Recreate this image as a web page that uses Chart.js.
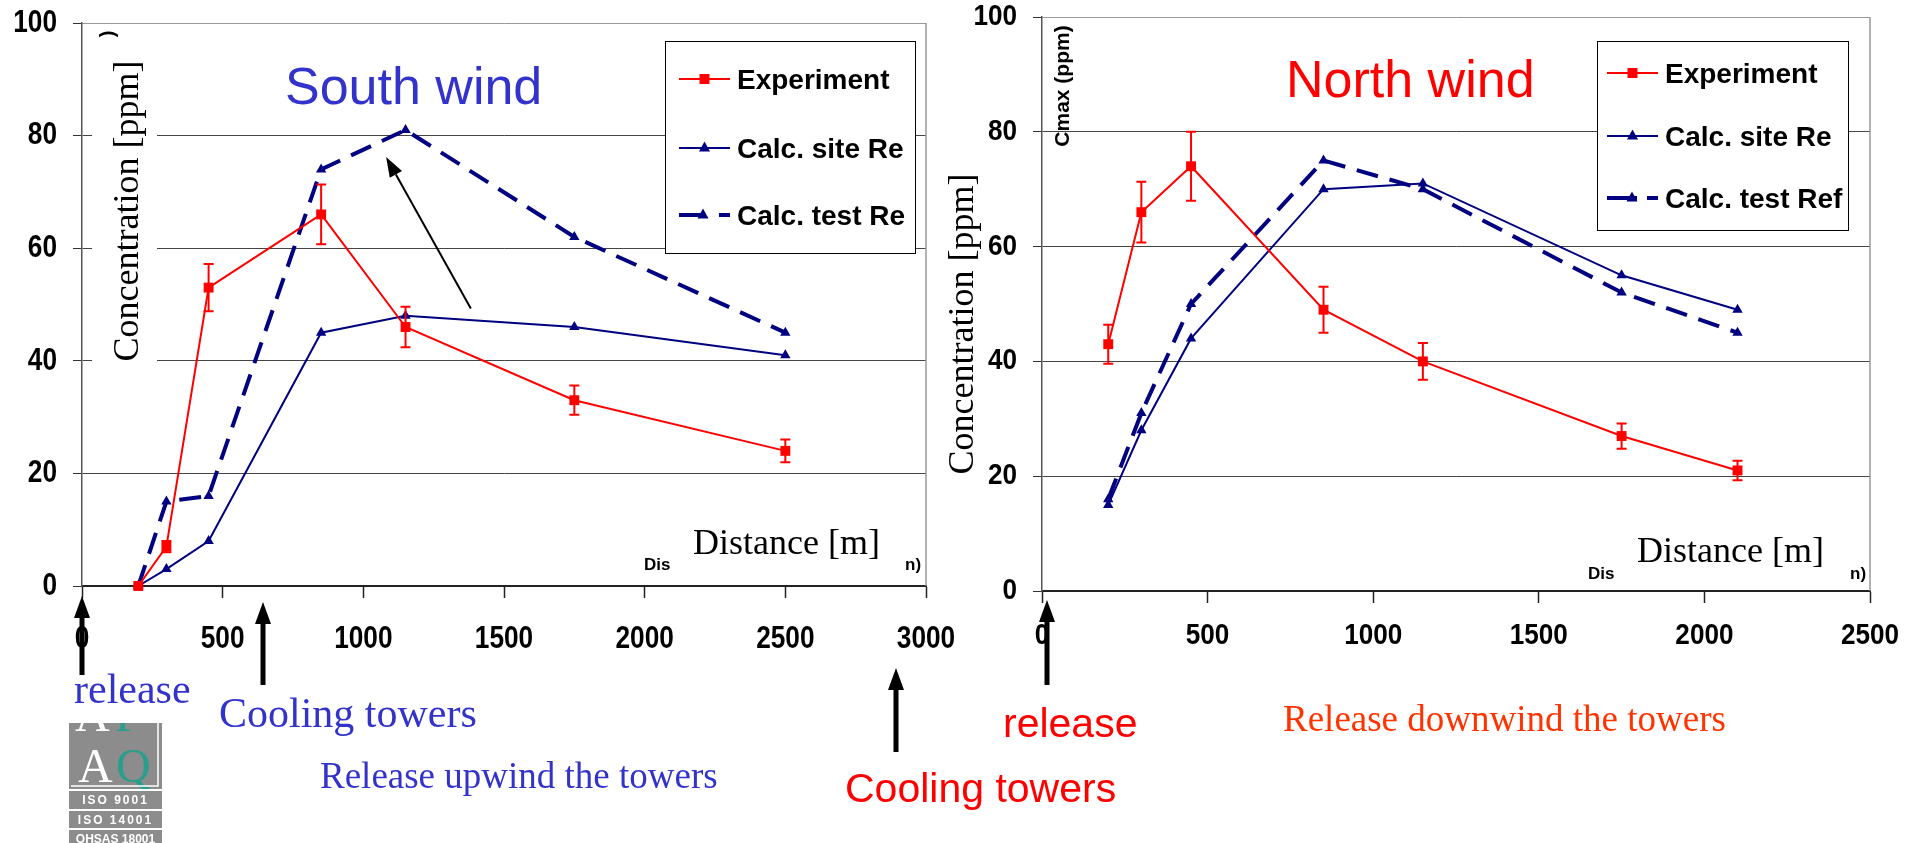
<!DOCTYPE html>
<html>
<head>
<meta charset="utf-8">
<script src="https://cdn.jsdelivr.net/npm/chart.js@4.4.1/dist/chart.umd.min.js"></script>
<style>
  html, body { margin: 0; padding: 0; background: #fff; width: 1921px; height: 843px; overflow: hidden; }
  canvas { position: absolute; left: 0; top: 0; }
</style>
</head>
<body>
<canvas id="south" width="1921" height="843"></canvas>
<canvas id="north" width="1921" height="843"></canvas>
<script>
// ---- South wind: release upwind of the cooling towers ----
const southDistance      = [200, 300, 450, 850, 1150, 1750, 2500];
const southExperiment    = [0, 7, 53, 66, 46, 33, 24];
const southExperimentErr = [0, 1, 4.2, 5.3, 3.6, 2.6, 2.0];
const southCalcSite      = [0, 3, 8, 45, 48, 46, 41];
const southCalcTest      = [0, 15, 16, 74, 81, 62, 45];
const southSeriesNames   = ['Experiment', 'Calc. site Re', 'Calc. test Re'];
const southDistanceTicks = [0, 500, 1000, 1500, 2000, 2500, 3000];

// ---- North wind: release downwind of the cooling towers ----
const northDistance      = [200, 300, 450, 850, 1150, 1750, 2100];
const northExperiment    = [43, 66, 74, 49, 40, 27, 21];
const northExperimentErr = [3.4, 5.3, 6.0, 4.0, 3.2, 2.2, 1.7];
const northCalcSite      = [15, 28, 44, 70, 71, 55, 49];
const northCalcTest      = [16, 31, 50, 75, 70, 52, 45];
const northSeriesNames   = ['Experiment', 'Calc. site Re', 'Calc. test Ref'];
const northDistanceTicks = [0, 500, 1000, 1500, 2000, 2500];

const concentrationTicks = [0, 20, 40, 60, 80, 100];

const RED = '#FF0000', NAVY = '#000080', BLUE_TXT = '#3333CC', ORANGE_TXT = '#FF3300';
const SANS = '"Liberation Sans", Arial, sans-serif';
const SERIF = '"Liberation Serif", "Times New Roman", serif';

// ---- drawing helpers ----
function upArrow(ctx, x, tipY, baseY) {
  ctx.save();
  ctx.fillStyle = '#000';
  ctx.fillRect(x - 2.5, tipY + 18, 5, baseY - tipY - 18);
  ctx.beginPath();
  ctx.moveTo(x, tipY);
  ctx.lineTo(x - 8, tipY + 22);
  ctx.lineTo(x + 8, tipY + 22);
  ctx.closePath();
  ctx.fill();
  ctx.restore();
}
function lineArrow(ctx, x0, y0, x1, y1) {
  const ang = Math.atan2(y1 - y0, x1 - x0), L = 20, W = 7;
  const bx = x1 - L * Math.cos(ang), by = y1 - L * Math.sin(ang);
  ctx.save();
  ctx.strokeStyle = '#000'; ctx.fillStyle = '#000'; ctx.lineWidth = 2;
  ctx.beginPath(); ctx.moveTo(x0, y0); ctx.lineTo(bx, by); ctx.stroke();
  ctx.beginPath();
  ctx.moveTo(x1, y1);
  ctx.lineTo(bx + W * Math.sin(ang), by - W * Math.cos(ang));
  ctx.lineTo(bx - W * Math.sin(ang), by + W * Math.cos(ang));
  ctx.closePath(); ctx.fill();
  ctx.restore();
}
function text(ctx, str, x, y, font, color, align) {
  ctx.save();
  ctx.font = font; ctx.fillStyle = color;
  ctx.textAlign = align || 'left'; ctx.textBaseline = 'alphabetic';
  ctx.fillText(str, x, y);
  ctx.restore();
}
// condensed label: drawn with a horizontal squeeze
function squeezed(ctx, str, x, y, size, sx, align) {
  ctx.save();
  ctx.translate(x, y); ctx.scale(sx, 1);
  ctx.font = 'bold ' + size + 'px ' + SANS;
  ctx.fillStyle = '#000';
  ctx.textAlign = align; ctx.textBaseline = 'middle';
  ctx.fillText(str, 0, 0);
  ctx.restore();
}
function vText(ctx, str, x, y, font, color) {
  ctx.save();
  ctx.translate(x, y); ctx.rotate(-Math.PI / 2);
  ctx.font = font; ctx.fillStyle = color;
  ctx.textAlign = 'center'; ctx.textBaseline = 'alphabetic';
  ctx.fillText(str, 0, 0);
  ctx.restore();
}
function marker(ctx, style, x, y, color) {
  ctx.save();
  ctx.fillStyle = color;
  ctx.beginPath();
  if (style === 'rect') {
    ctx.rect(x - 5, y - 5, 10, 10);
  } else {
    ctx.moveTo(x, y - 6.5); ctx.lineTo(x - 5.5, y + 3.5); ctx.lineTo(x + 5.5, y + 3.5); ctx.closePath();
  }
  ctx.fill();
  ctx.restore();
}
function drawLegend(ctx, chart, L) {
  ctx.save();
  ctx.fillStyle = '#fff';
  ctx.fillRect(L.left, L.top, L.right - L.left, L.bottom - L.top);
  ctx.strokeStyle = '#000'; ctx.lineWidth = 1;
  ctx.strokeRect(L.left + 0.5, L.top + 0.5, L.right - L.left, L.bottom - L.top);
  chart.data.datasets.forEach((ds, i) => {
    const y = L.rows[i];
    ctx.save();
    ctx.strokeStyle = ds.borderColor;
    ctx.lineWidth = ds.borderWidth;
    if (ds.borderDash) ctx.setLineDash(L.dash);
    ctx.beginPath(); ctx.moveTo(L.x0, y); ctx.lineTo(L.x1, y); ctx.stroke();
    ctx.restore();
    marker(ctx, ds.pointStyle, ds.borderDash ? L.dashMarkX : (L.x0 + L.x1) / 2, y, ds.borderColor);
    text(ctx, ds.label, L.textX, y + 9.5, 'bold 28px ' + SANS, '#000');
  });
  ctx.restore();
}
function drawLogo(ctx) {
  const x = 69, w = 93;
  ctx.save();
  ctx.fillStyle = '#8c8c8c';
  ctx.fillRect(x, 723, w, 66);
  ctx.beginPath(); ctx.rect(x, 723, w, 66); ctx.clip();
  ctx.font = '48px ' + SERIF;
  ctx.fillStyle = '#fff'; ctx.fillText('A', x + 6, 731);
  ctx.fillStyle = '#2a9d8c'; ctx.fillText('F', x + 46, 731);
  ctx.fillStyle = '#fff'; ctx.fillText('A', x + 9, 782);
  ctx.fillStyle = '#2a9d8c'; ctx.fillText('Q', x + 47, 782);
  ctx.strokeStyle = '#fff'; ctx.lineWidth = 1.5;
  ctx.beginPath(); ctx.moveTo(x + w - 4, 723); ctx.lineTo(x + w - 4, 786); ctx.lineTo(x + 2, 786); ctx.stroke();
  ctx.restore();
  const bands = [['ISO 9001', 791, 809], ['ISO 14001', 811, 828], ['OHSAS 18001', 830, 843]];
  bands.forEach(b => {
    ctx.fillStyle = '#8c8c8c';
    ctx.fillRect(x, b[1], w, b[2] - b[1]);
    ctx.save();
    ctx.font = 'bold 12px ' + SANS;
    ctx.fillStyle = '#fff';
    ctx.textAlign = 'center';
    if ('letterSpacing' in ctx) ctx.letterSpacing = b[0].length > 9 ? '0px' : '2px';
    ctx.fillText(b[0], x + w / 2, b[1] + 13);
    ctx.restore();
  });
}

// ---- error bars on the measured series ----
const errorBars = {
  id: 'errorBars',
  afterDatasetsDraw(chart, args, opts) {
    const ctx = chart.ctx, xs = chart.scales.x, ys = chart.scales.y;
    const ds = chart.data.datasets[0];
    ctx.save();
    ctx.strokeStyle = ds.borderColor; ctx.lineWidth = 2;
    ds.data.forEach((p, i) => {
      const e = opts.errors[i];
      if (!e) return;
      const x = xs.getPixelForValue(p.x);
      const yT = ys.getPixelForValue(p.y + e), yB = ys.getPixelForValue(p.y - e);
      ctx.beginPath();
      ctx.moveTo(x, yT); ctx.lineTo(x, yB);
      ctx.moveTo(x - 5, yT); ctx.lineTo(x + 5, yT);
      ctx.moveTo(x - 5, yB); ctx.lineTo(x + 5, yB);
      ctx.stroke();
    });
    ctx.restore();
  }
};

function makePanel(id, P) {
  const series = [
    { label: P.names[0], values: P.exp, color: RED, width: 2, style: 'rect', radius: 7 },
    { label: P.names[1], values: P.site, color: NAVY, width: 2, style: 'triangle', radius: 6 },
    { label: P.names[2], values: P.test, color: NAVY, width: 4, style: 'triangle', radius: 6, dash: [22, 12] }
  ];
  const frame = {
    id: 'frame',
    beforeDatasetsDraw(chart) {
      const ctx = chart.ctx, a = chart.chartArea;
      ctx.save();
      ctx.strokeStyle = '#999'; ctx.lineWidth = 1.5;
      ctx.beginPath(); ctx.moveTo(a.right, a.top); ctx.lineTo(a.right, a.bottom); ctx.stroke();
      if (P.beforeData) P.beforeData(ctx, chart);
      ctx.restore();
    },
    afterDraw(chart) {
      const ctx = chart.ctx, xs = chart.scales.x, ys = chart.scales.y;
      // tick labels in a condensed bold face, placed by the scales
      xs.ticks.forEach(t => squeezed(ctx, String(t.value), xs.getPixelForValue(t.value), P.xLabelY, P.tickSize, P.squeeze, 'center'));
      ys.ticks.forEach(t => squeezed(ctx, String(t.value), ys.right - 25, ys.getPixelForValue(t.value), P.tickSize, P.squeeze, 'right'));
      drawLegend(ctx, chart, P.legend);
      P.extras(ctx, chart);
    }
  };
  return new Chart(document.getElementById(id), {
    type: 'line',
    data: {
      datasets: series.map(s => ({
        label: s.label,
        data: P.x.map((x, i) => ({ x: x, y: s.values[i] })),
        borderColor: s.color,
        backgroundColor: s.color,
        borderWidth: s.width,
        borderDash: s.dash,
        pointStyle: s.style,
        pointRadius: s.radius,
        pointBorderWidth: 0,
        pointBackgroundColor: s.color,
        tension: 0,
        clip: false
      }))
    },
    options: {
      responsive: false,
      animation: false,
      devicePixelRatio: 1,
      events: [],
      layout: { padding: { left: P.area.left - 82, right: 1921 - P.area.right, top: P.area.top, bottom: 0 } },
      plugins: { legend: { display: false }, tooltip: { enabled: false }, errorBars: { errors: P.err } },
      scales: {
        x: {
          type: 'linear', min: 0, max: P.xMax,
          afterBuildTicks: s => { s.ticks = P.xTicks.map(v => ({ value: v })); },
          afterFit: s => { s.height = 843 - P.area.bottom; },
          grid: { drawOnChartArea: false, drawTicks: true, tickLength: 12, tickColor: '#222', tickWidth: 1.5 },
          border: { color: '#222', width: 2 },
          ticks: { display: false }
        },
        y: {
          min: 0, max: 100,
          afterBuildTicks: s => { s.ticks = concentrationTicks.map(v => ({ value: v })); },
          afterFit: s => { s.width = 82; },
          grid: {
            color: c => c.tick && c.tick.value === 100 ? '#999' : (c.tick && c.tick.value === 0 ? 'rgba(0,0,0,0)' : '#444'),
            lineWidth: 1, tickLength: 9, tickColor: '#333'
          },
          border: { color: '#555', width: 1.5 },
          ticks: { display: false }
        }
      }
    },
    plugins: [errorBars, frame]
  });
}

// ---- South wind panel ----
makePanel('south', {
  x: southDistance, exp: southExperiment, err: southExperimentErr,
  site: southCalcSite, test: southCalcTest, names: southSeriesNames,
  xTicks: southDistanceTicks, xMax: 3000, tickSize: 32, squeeze: 0.82, xLabelY: 639,
  area: { left: 82, right: 926, top: 23, bottom: 586 },
  legend: { left: 665, top: 41, right: 915, bottom: 253, x0: 679, x1: 730, textX: 737,
            rows: [79, 148, 215], dash: [26, 14], dashMarkX: 703 },
  beforeData(ctx) {
    // clear band behind the vertical axis title
    ctx.fillStyle = '#fff';
    ctx.fillRect(92, 30, 65, 338);
  },
  extras(ctx, chart) {
    const xs = chart.scales.x, ys = chart.scales.y;
    text(ctx, 'South wind', 285, 104, '52px ' + SANS, BLUE_TXT);
    vText(ctx, 'Concentration [ppm]', 138, 211, '36px ' + SERIF, '#000');
    vText(ctx, ')', 114, 34, 'bold 20px ' + SANS, '#000');
    text(ctx, 'Dis', 644, 570, 'bold 17px ' + SANS, '#000');
    text(ctx, 'n)', 905, 570, 'bold 17px ' + SANS, '#000');
    text(ctx, 'Distance [m]', 693, 554, '36px ' + SERIF, '#000');
    lineArrow(ctx, xs.getPixelForValue(1382), ys.getPixelForValue(49.3),
                   xs.getPixelForValue(1081), ys.getPixelForValue(76.2));
    upArrow(ctx, xs.getPixelForValue(0), 596, 675);
    upArrow(ctx, 263, 602, 685);
    text(ctx, 'release', 74, 703, '42px ' + SERIF, BLUE_TXT);
    text(ctx, 'Cooling towers', 219, 727, '42px ' + SERIF, BLUE_TXT);
    text(ctx, 'Release upwind the towers', 320, 788, '37px ' + SERIF, BLUE_TXT);
    drawLogo(ctx);
  }
});

// ---- North wind panel ----
makePanel('north', {
  x: northDistance, exp: northExperiment, err: northExperimentErr,
  site: northCalcSite, test: northCalcTest, names: northSeriesNames,
  xTicks: northDistanceTicks, xMax: 2500, tickSize: 29, squeeze: 0.9, xLabelY: 636,
  area: { left: 1042, right: 1870, top: 17, bottom: 591 },
  legend: { left: 1597, top: 41, right: 1848, bottom: 230, x0: 1607, x1: 1658, textX: 1665,
            rows: [73, 136, 198], dash: [30, 10], dashMarkX: 1632 },
  extras(ctx, chart) {
    text(ctx, 'North wind', 1286, 97, '52px ' + SANS, RED);
    vText(ctx, 'Concentration [ppm]', 973, 324, '36px ' + SERIF, '#000');
    vText(ctx, 'Cmax (ppm)', 1069, 86, 'bold 21px ' + SANS, '#000');
    text(ctx, 'Dis', 1588, 579, 'bold 17px ' + SANS, '#000');
    text(ctx, 'n)', 1850, 579, 'bold 17px ' + SANS, '#000');
    text(ctx, 'Distance [m]', 1637, 562, '36px ' + SERIF, '#000');
    upArrow(ctx, 1047, 600, 685);
    upArrow(ctx, 896, 668, 752);
    text(ctx, 'release', 1003, 737, '41px ' + SANS, RED);
    text(ctx, 'Cooling towers', 845, 802, '41px ' + SANS, RED);
    text(ctx, 'Release downwind the towers', 1283, 731, '37px ' + SERIF, ORANGE_TXT);
  }
});
</script>
</body>
</html>
